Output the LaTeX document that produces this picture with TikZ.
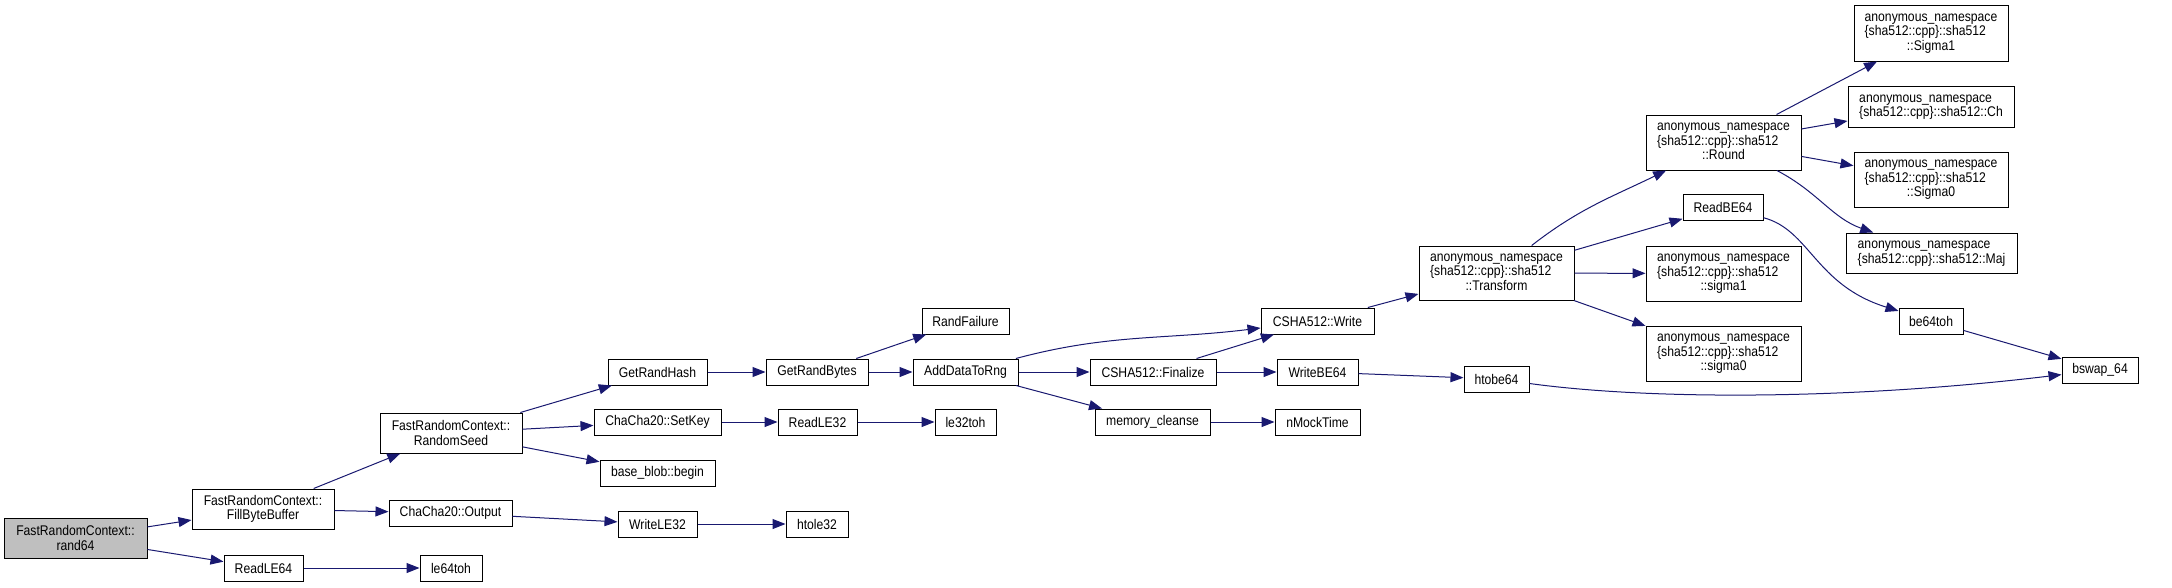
\documentclass[tikz,border=0pt]{standalone}
\usepackage{fontspec}
\setmainfont{Liberation Sans}[FakeStretch=0.87]
\usetikzlibrary{arrows.meta}
\definecolor{edgeblue}{HTML}{191970}
\definecolor{rootgray}{HTML}{BFBFBF}
\newcommand\mkfn[7][]{\node[fn,#1,minimum width={#5-#3},minimum height={#6-#4}] (#2) at ({(#3+#5)/2},{-(#4+#6)/2}) {#7};}
\newcommand\anonthree[1]{\begin{tabular}{@{}l@{}}anonymous\_namespace\\\{sha512::cpp\}::sha512\\\multicolumn{1}{@{}c@{}}{::#1}\end{tabular}}
\newcommand\anontwo[1]{\begin{tabular}{@{}l@{}}anonymous\_namespace\\\{sha512::cpp\}::sha512::#1\end{tabular}}
\tikzset{
  fn/.style={draw=black, line width=1pt, fill=white, inner sep=0pt, align=center,
    font=\fontsize{14}{14.3}\selectfont},
  call/.style={draw=edgeblue, line width=1pt, -{Triangle[length=13pt,width=10pt]}}
}
\begin{document}
\begin{tikzpicture}[x=1pt,y=1pt]
\useasboundingbox (0,0) rectangle (2172,-587);
% nodes
\mkfn[fill=rootgray]{r64}{4}{518}{147}{558}{FastRandomContext::\\rand64}
\mkfn{fbb}{192}{489}{334}{529}{FastRandomContext::\\FillByteBuffer}
\mkfn{rs}{380}{413}{522}{453}{FastRandomContext::\\RandomSeed}
\mkfn{out}{389}{500}{512}{526}{ChaCha20::Output}
\mkfn{rle64}{224}{555}{303}{581}{ReadLE64}
\mkfn{le64}{420}{555}{482}{581}{le64toh}
\mkfn{grh}{608}{359}{707}{385}{GetRandHash}
\mkfn{grb}{766}{359}{868}{385}{GetRandBytes}
\mkfn{rf}{922}{308}{1009}{334}{RandFailure}
\mkfn{adr}{913}{359}{1018}{385}{AddDataToRng}
\mkfn{sk}{594}{409}{721}{435}{ChaCha20::SetKey}
\mkfn{rle32}{778}{409}{857}{435}{ReadLE32}
\mkfn{le32}{935}{409}{996}{435}{le32toh}
\mkfn{bb}{600}{460}{715}{486}{base\_blob::begin}
\mkfn{wle32}{618}{511}{697}{537}{WriteLE32}
\mkfn{hle32}{786}{511}{848}{537}{htole32}
\mkfn{wr}{1261}{308}{1374}{334}{CSHA512::Write}
\mkfn{tr}{1419}{246}{1574}{300}{\anonthree{Transform}}
\mkfn{fin}{1090}{359}{1216}{385}{CSHA512::Finalize}
\mkfn{wbe}{1277}{359}{1358}{385}{WriteBE64}
\mkfn{hbe}{1464}{366}{1529}{392}{htobe64}
\mkfn{mc}{1095}{409}{1210}{435}{memory\_cleanse}
\mkfn{nmt}{1275}{409}{1360}{435}{nMockTime}
\mkfn{rd}{1646}{115}{1801}{170}{\anonthree{Round}}
\mkfn{Sg1}{1854}{5}{2008}{61}{\anonthree{Sigma1}}
\mkfn{ch}{1848}{86}{2014}{127}{\anontwo{Ch}}
\mkfn{Sg0}{1854}{152}{2008}{207}{\anonthree{Sigma0}}
\mkfn{maj}{1846}{233}{2017}{273}{\anontwo{Maj}}
\mkfn{rbe}{1683}{194}{1763}{220}{ReadBE64}
\mkfn{sg1}{1646}{246}{1801}{301}{\anonthree{sigma1}}
\mkfn{sg0}{1646}{326}{1801}{381}{\anonthree{sigma0}}
\mkfn{be}{1899}{308}{1963}{334}{be64toh}
\mkfn{bs}{2062}{357}{2138}{383}{bswap\_64}
% edges
\draw[call] (r64) -- (fbb);
\draw[call] (r64) -- (rle64);
\draw[call] (fbb) -- (rs);
\draw[call] (fbb) -- (out);
\draw[call] (rle64) -- (le64);
\draw[call] (rs) -- (grh);
\draw[call] (rs) -- (sk);
\draw[call] (rs) -- (bb);
\draw[call] (out) -- (wle32);
\draw[call] (wle32) -- (hle32);
\draw[call] (grh) -- (grb);
\draw[call] (grb) -- (rf);
\draw[call] (grb) -- (adr);
\draw[call] (sk) -- (rle32);
\draw[call] (rle32) -- (le32);
\draw[call] (adr) to[out=15,in=187] (wr);
\draw[call] (adr) -- (fin);
\draw[call] (adr) -- (mc);
\draw[call] (fin) -- (wr);
\draw[call] (fin) -- (wbe);
\draw[call] (wbe) -- (hbe);
\draw[call] (mc) -- (nmt);
\draw[call] (wr) -- (tr);
\draw[call] (tr) to[out=38,in=206] (rd);
\draw[call] (tr) -- (rbe);
\draw[call] (tr) -- (sg1);
\draw[call] (tr) -- (sg0);
\draw[call] (rd) -- (Sg1);
\draw[call] (rd) -- (ch);
\draw[call] (rd) -- (Sg0);
\draw[call] (rd) .. controls (1818,-192) and (1832,-218) .. (maj);
\draw[call] (rbe) .. controls (1810,-230) and (1815,-285) .. (be);
\draw[call] (be) -- (bs);
\draw[call] (hbe) .. controls (1650,-400) and (1850,-400) .. (bs);
\end{tikzpicture}
\end{document}
